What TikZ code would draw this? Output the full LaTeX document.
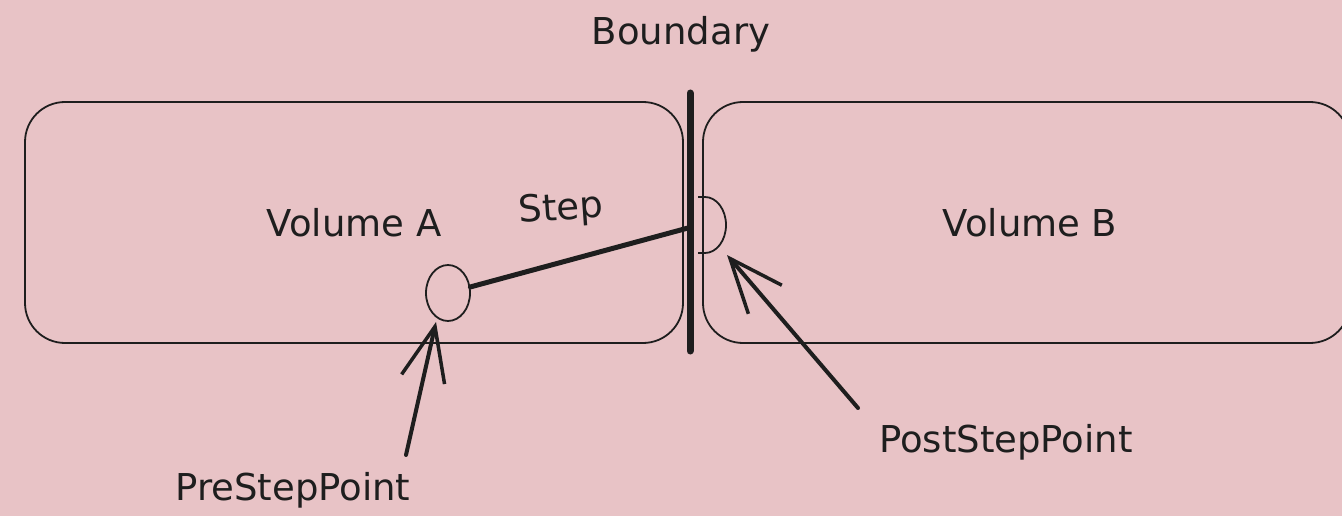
\documentclass[tikz,border=0pt]{standalone}
\usepackage{fontspec}
\setmainfont{DejaVu Sans}
\usetikzlibrary{shapes.geometric,arrows.meta}
\definecolor{bg}{RGB}{232,195,198}
\definecolor{ink}{RGB}{30,30,30}
\begin{document}
\begin{tikzpicture}[x=1pt,y=-1pt,
  txt/.style={font=\fontsize{37}{44}\selectfont, text=ink, inner sep=0pt},
  volbox/.style={draw=ink, line width=1.8pt, rounded corners=40pt, inner sep=0pt, txt},
  ptcircle/.style={draw=ink, line width=1.8pt, ellipse, inner sep=0pt, minimum width=44pt, minimum height=56pt},
  pointer/.style={draw=ink, line width=4pt, line cap=round, -{Straight Barb[length=54pt, width=44pt, line width=3.5pt]}},
  stepline/.style={draw=ink, line width=5pt, line cap=round},
  wall/.style={draw=ink, line width=7pt, line cap=round}]
\fill[bg] (0,0) rectangle (1342,516);
\useasboundingbox (0,0) rectangle (1342,516);
% volumes
\node[volbox, minimum width=658pt, minimum height=241pt] (A) at (354,222.5) {Volume A};
\node[volbox, minimum width=647pt, minimum height=241pt] (B) at (1026.5,222.5) {\hspace*{7pt}Volume B};
% boundary
\coordinate (bt) at (690,93);
\coordinate (bb) at (690,351);
\draw[wall] (bt) -- (bb);
\node[txt, anchor=base] (blabel) at (681,45) {Boundary};
% pre step point
\node[ptcircle] (pre) at (448,293) {};
\coordinate (se) at (688,228);
\draw[stepline] (pre) -- (se);
\node[txt, anchor=base, rotate=4] (steplabel) at (562,220) {Step};
% post step point (half circle against the boundary)
\coordinate (post) at (698,225);
\draw[draw=ink, line width=1.8pt] (698,197) -- (705,197) arc[start angle=90, end angle=-90, x radius=21pt, y radius=28pt] -- (698,253);
% labels and pointers
\node[txt, anchor=base] (prelabel) at (293,500) {PreStepPoint};
\node[txt, anchor=base] (postlabel) at (1006,452) {PostStepPoint};
\coordinate (pretail) at (406,455);
\coordinate (pretip) at (436,322);
\coordinate (posttail) at (858,408);
\coordinate (posttip) at (727,255);
\draw[pointer] (pretail) -- (pretip);
\draw[pointer] (posttail) -- (posttip);
\end{tikzpicture}
\end{document}
